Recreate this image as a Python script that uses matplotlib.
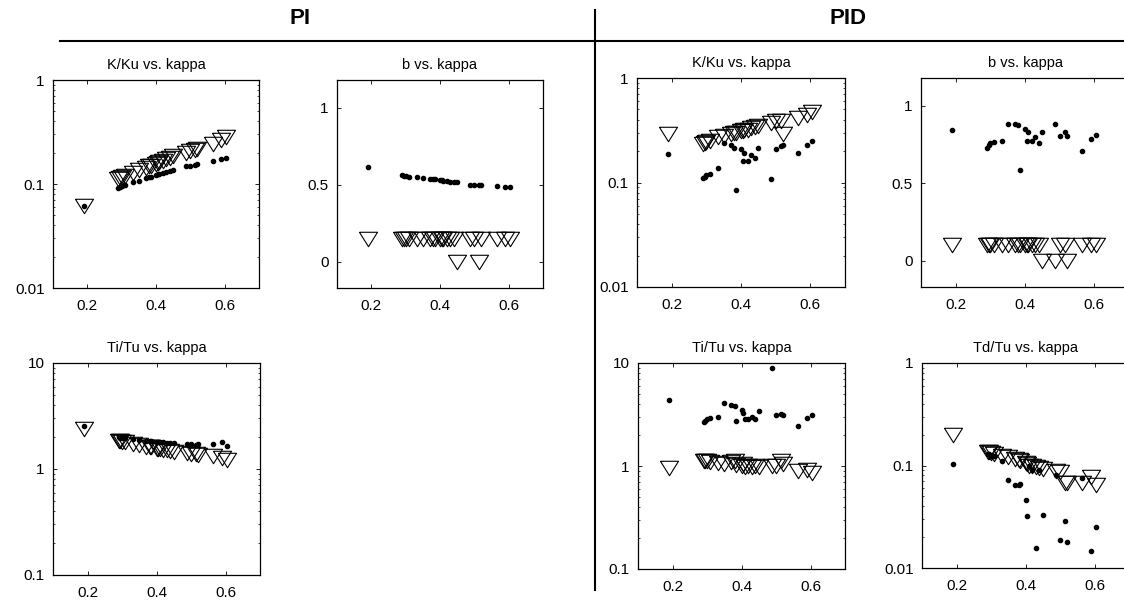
import matplotlib
matplotlib.use("Agg")
import matplotlib.pyplot as plt
from matplotlib.lines import Line2D

plt.rcParams['font.family'] = ['Liberation Sans', 'DejaVu Sans']

# kappa values of the test processes (shared by all panels)
kappa = [0.19, 0.29, 0.295, 0.30, 0.31, 0.333, 0.35, 0.37, 0.38, 0.385, 0.40, 0.405,
         0.41, 0.42, 0.43, 0.44, 0.45, 0.487, 0.50, 0.515, 0.52, 0.565, 0.59, 0.605]

# PI, optimal values (dots) and rule values (triangles)
pi_k_dot = [0.062, 0.091, 0.093, 0.095, 0.098, 0.104, 0.108, 0.114, 0.117, 0.118, 0.122, 0.124,
            0.125, 0.128, 0.131, 0.134, 0.137, 0.149, 0.150, 0.153, 0.155, 0.165, 0.174, 0.177]
pi_k_tri = [0.062, 0.112, 0.114, 0.116, 0.120, 0.128, 0.135, 0.143, 0.148, 0.150, 0.157, 0.160,
            0.163, 0.168, 0.173, 0.178, 0.184, 0.200, 0.206, 0.210, 0.215, 0.240, 0.262, 0.280]
pi_b_dot = [0.615, 0.565, 0.560, 0.555, 0.553, 0.548, 0.545, 0.540, 0.537, 0.535, 0.532, 0.530,
            0.527, 0.522, 0.520, 0.517, 0.515, 0.500, 0.498, 0.500, 0.497, 0.495, 0.485, 0.487]
pi_b_tri = [0.15, 0.15, 0.15, 0.15, 0.15, 0.15, 0.15, 0.15, 0.15, 0.15, 0.15, 0.15,
            0.15, 0.15, 0.15, 0.15, 0.0, 0.15, 0.15, 0.0, 0.15, 0.15, 0.15, 0.15]
pi_ti_dot = [2.55, 2.00, 1.98, 1.96, 1.94, 1.90, 1.88, 1.85, 1.83, 1.82, 1.80, 1.80,
             1.79, 1.78, 1.77, 1.76, 1.75, 1.72, 1.72, 1.70, 1.72, 1.72, 1.78, 1.65]
pi_ti_tri = [2.40, 1.85, 1.83, 1.80, 1.78, 1.72, 1.68, 1.63, 1.60, 1.60, 1.56, 1.55,
             1.54, 1.52, 1.50, 1.48, 1.46, 1.42, 1.40, 1.38, 1.37, 1.33, 1.28, 1.22]

# PID
pid_k_dot = [0.187, 0.110, 0.114, 0.117, 0.120, 0.137, 0.238, 0.230, 0.215, 0.085, 0.210, 0.162,
             0.190, 0.160, 0.183, 0.170, 0.216, 0.108, 0.210, 0.224, 0.230, 0.193, 0.229, 0.252]
pid_k_tri = [0.29, 0.235, 0.24, 0.245, 0.25, 0.27, 0.28, 0.29, 0.295, 0.30, 0.31, 0.31,
             0.315, 0.32, 0.33, 0.34, 0.35, 0.37, 0.385, 0.39, 0.29, 0.41, 0.445, 0.47]
pid_b_dot = [0.847, 0.731, 0.750, 0.762, 0.765, 0.772, 0.884, 0.880, 0.875, 0.584, 0.849, 0.770,
             0.832, 0.770, 0.797, 0.762, 0.832, 0.884, 0.803, 0.832, 0.803, 0.707, 0.788, 0.814]
pid_b_tri = [0.1, 0.1, 0.1, 0.1, 0.1, 0.1, 0.1, 0.1, 0.1, 0.1, 0.1, 0.1,
             0.1, 0.1, 0.1, 0.1, 0.0, 0.0, 0.1, 0.1, 0.0, 0.1, 0.1, 0.1]
pid_ti_dot = [4.42, 2.65, 2.75, 2.85, 2.90, 2.96, 4.13, 3.95, 3.85, 2.73, 3.50, 3.30,
              2.85, 2.85, 3.00, 2.85, 3.40, 8.95, 3.16, 3.20, 3.16, 2.44, 2.95, 3.10]
pid_ti_tri = [0.95, 1.12, 1.12, 1.12, 1.10, 1.08, 1.05, 1.10, 1.12, 1.03, 1.00, 1.05,
              0.98, 1.00, 0.98, 1.00, 0.97, 1.00, 1.00, 1.12, 1.05, 0.90, 0.92, 0.85]
pid_td_dot = [0.103, 0.13, 0.13, 0.125, 0.125, 0.11, 0.072, 0.065, 0.065, 0.066, 0.046, 0.032,
              0.10, 0.09, 0.0155, 0.09, 0.033, 0.08, 0.0186, 0.0288, 0.0178, 0.075, 0.0148, 0.025]
pid_td_tri = [0.20, 0.135, 0.135, 0.133, 0.130, 0.125, 0.122, 0.115, 0.112, 0.110, 0.105, 0.103,
              0.100, 0.098, 0.096, 0.095, 0.093, 0.088, 0.086, 0.068, 0.068, 0.068, 0.077, 0.064]

W, H = 1124, 606
fig = plt.figure(figsize=(W / 100, H / 100), dpi=100)

# slightly flattened downward triangle, like the original markers
tri = [(-1, 0.8), (1, 0.8), (0, -0.8), (-1, 0.8)]


def panel(x0, y0, x1, y1, title, dots, tris, log=True, ylim=None, yticks=None, ylabels=None):
    ax = fig.add_axes([x0 / W, 1 - y1 / H, (x1 - x0) / W, (y1 - y0) / H])
    ax.plot(kappa, dots, 'o', ms=3, color='black', mec='black')
    ax.plot(kappa, tris, ls='none', marker=tri, ms=13, mfc='none', mec='black', mew=0.8)
    if log:
        ax.set_yscale('log')
    ax.set_xlim(0.1, 0.7)
    ax.set_ylim(*ylim)
    ax.set_xticks([0.2, 0.4, 0.6], ['0.2', '0.4', '0.6'])
    ax.set_yticks(yticks, ylabels)
    ax.tick_params(which='both', direction='in', top=True, right=True, labelsize=11)
    ax.tick_params(which='major', length=3, width=0.6)
    ax.tick_params(which='minor', length=1.5, width=0.5)
    ax.tick_params(axis='x', pad=8)
    ax.tick_params(axis='y', pad=6)
    for s in ax.spines.values():
        s.set_linewidth(0.9)
    ax.set_title(title, fontsize=10.5, pad=8)
    return ax


lg2 = dict(ylim=(0.01, 1), yticks=[0.01, 0.1, 1], ylabels=['0.01', '0.1', '1'])
lg10 = dict(ylim=(0.1, 10), yticks=[0.1, 1, 10], ylabels=['0.1', '1', '10'])
lin = dict(log=False, ylim=(-0.17, 1.18), yticks=[0, 0.5, 1], ylabels=['0', '0.5', '1'])

panel(53, 80, 259, 288, 'K/Ku vs. kappa', pi_k_dot, pi_k_tri, **lg2)
panel(337, 80, 543, 288, 'b vs. kappa', pi_b_dot, pi_b_tri, **lin)
panel(53, 363, 260, 575, 'Ti/Tu vs. kappa', pi_ti_dot, pi_ti_tri, **lg10)
panel(637, 78, 845, 287, 'K/Ku vs. kappa', pid_k_dot, pid_k_tri, **lg2)
panel(921, 78, 1129, 287, 'b vs. kappa', pid_b_dot, pid_b_tri, **lin)
panel(638, 363, 845, 569, 'Ti/Tu vs. kappa', pid_ti_dot, pid_ti_tri, **lg10)
panel(922, 363, 1129, 568, 'Td/Tu vs. kappa', pid_td_dot, pid_td_tri, **lg2)

# section headers and divider lines
fig.text(300 / W, 1 - 18 / H, 'PI', ha='center', va='center', fontsize=16, fontweight='bold')
fig.text(848 / W, 1 - 18 / H, 'PID', ha='center', va='center', fontsize=16, fontweight='bold')
fig.add_artist(Line2D([60 / W, 1], [1 - 41 / H, 1 - 41 / H], color='black', lw=1.5))
fig.add_artist(Line2D([595 / W, 595 / W], [1 - 10 / H, 1 - 590 / H], color='black', lw=1.5))

fig.savefig('out.png', dpi=100)
